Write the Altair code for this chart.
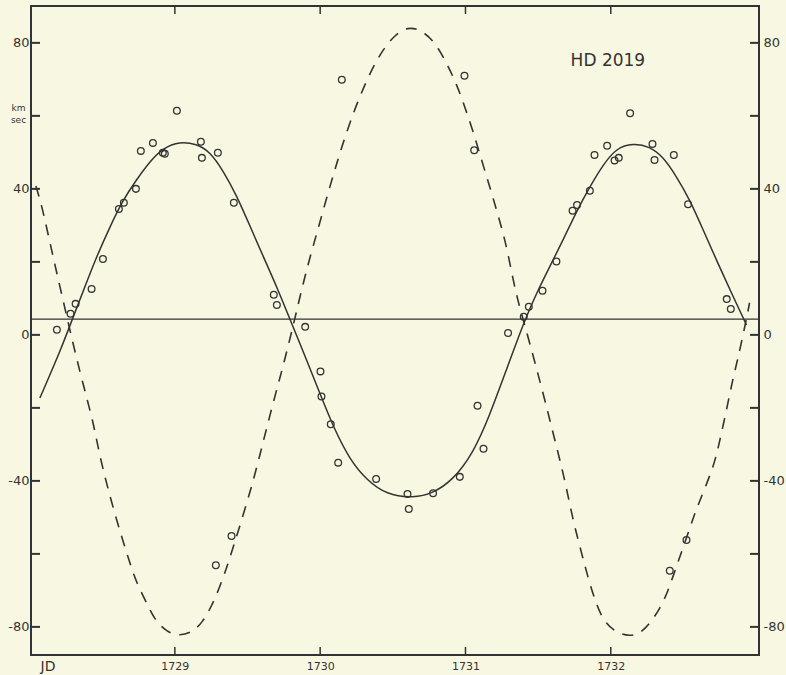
import altair as alt
import pandas as pd

# Primary star radial velocities (open circles)
p_x = [1728.188, 1728.282, 1728.317, 1728.427, 1728.505, 1728.615, 1728.649, 1728.732, 1728.766, 1728.849,
       1728.917, 1728.931, 1729.014, 1729.179, 1729.186, 1729.296, 1729.406, 1729.681, 1729.702, 1729.897,
       1730.002, 1730.009, 1730.073, 1730.124, 1730.385, 1730.601, 1730.610, 1730.777, 1730.961, 1731.083,
       1731.124, 1731.293, 1731.401, 1731.436, 1731.530, 1731.626, 1731.737, 1731.768, 1731.856, 1731.888,
       1731.975, 1732.026, 1732.055, 1732.133, 1732.287, 1732.301, 1732.434, 1732.532, 1732.798, 1732.826]
p_y = [1.4, 5.8, 8.5, 12.6, 20.8, 34.5, 36.2, 40.0, 50.4, 52.6,
       49.9, 49.6, 61.4, 52.9, 48.5, 49.9, 36.2, 11.0, 8.2, 2.2,
       -10.0, -16.9, -24.5, -35.0, -39.5, -43.6, -47.7, -43.4, -38.9, -19.4,
       -31.2, 0.5, 5.0, 7.7, 12.1, 20.1, 34.0, 35.6, 39.5, 49.3,
       51.8, 47.8, 48.5, 60.7, 52.3, 47.9, 49.3, 35.8, 9.8, 7.1]

# Secondary star points
s_x = [1729.282, 1729.390, 1730.149, 1730.993, 1731.060, 1732.406, 1732.521]
s_y = [-63.1, -55.1, 69.9, 71.0, 50.6, -64.6, -56.2]

# Solid curve (primary)
c1_x = [1728.071, 1728.220, 1728.300, 1728.381, 1728.461, 1728.553, 1728.644, 1728.736, 1728.828, 1728.919,
        1729.034, 1729.149, 1729.241, 1729.332, 1729.425, 1729.516, 1729.608, 1729.711, 1729.803, 1729.906,
        1729.998, 1730.089, 1730.204, 1730.319, 1730.457, 1730.640, 1730.777, 1730.915, 1731.053, 1731.167,
        1731.282, 1731.408, 1731.489, 1731.580, 1731.672, 1731.764, 1731.856, 1731.947, 1732.039, 1732.154,
        1732.268, 1732.360, 1732.452, 1732.544, 1732.635, 1732.727, 1732.842, 1732.934]
c1_y = [-17.3, -3.6, 4.9, 13.2, 21.4, 29.6, 37.0, 42.5, 47.5, 51.2,
        53.0, 52.3, 50.2, 45.0, 38.2, 29.9, 21.5, 12.3, 3.2, -6.8,
        -16.0, -25.1, -34.2, -39.7, -43.8, -44.7, -43.4, -39.7, -32.4, -22.0,
        -9.5, 4.1, 11.4, 18.7, 26.0, 33.8, 40.6, 46.6, 51.2, 52.5,
        51.6, 48.8, 43.4, 37.0, 28.8, 20.5, 10.5, 2.7]

# Dashed curve (secondary)
c2_x = [1728.044, 1728.083, 1728.121, 1728.167, 1728.222, 1728.298, 1728.346, 1728.392, 1728.436, 1728.461,
        1728.496, 1728.587, 1728.690, 1728.736, 1728.805, 1728.862, 1728.943, 1729.034, 1729.124, 1729.193,
        1729.253, 1729.310, 1729.356, 1729.390, 1729.528, 1729.597, 1729.676, 1729.757, 1729.826, 1729.872,
        1729.917, 1729.963, 1730.009, 1730.055, 1730.101, 1730.147, 1730.204, 1730.273, 1730.353, 1730.431,
        1730.514, 1730.603, 1730.693, 1730.789, 1730.870, 1730.938, 1730.995, 1731.053, 1731.110, 1731.167,
        1731.214, 1731.259, 1731.293, 1731.328, 1731.362, 1731.408, 1731.477, 1731.546, 1731.615, 1731.684,
        1731.739, 1731.798, 1731.842, 1731.890, 1731.945, 1732.028, 1732.131, 1732.211, 1732.289, 1732.372,
        1732.427, 1732.475, 1732.544, 1732.585, 1732.700, 1732.736, 1732.771, 1732.805, 1732.839, 1732.873,
        1732.908, 1732.942, 1732.955]
c2_y = [40.8, 35.5, 28.8, 20.5, 11.0, -2.2, -10.0, -17.0, -23.8, -28.6,
        -35.5, -49.3, -62.5, -67.9, -73.4, -78.1, -81.4, -82.5, -81.4, -78.6,
        -74.3, -69.0, -63.8, -59.7, -41.9, -31.0, -18.6, -6.8, 4.5, 12.3,
        19.4, 25.9, 32.4, 39.0, 45.2, 51.3, 58.1, 65.4, 72.6, 78.1,
        82.2, 84.4, 83.6, 80.3, 74.5, 68.8, 62.5, 55.7, 48.0, 40.6,
        34.2, 27.9, 22.2, 15.1, 9.1, 2.7, -7.4, -17.8, -28.8, -39.7,
        -50.7, -59.6, -66.3, -72.6, -78.1, -81.4, -82.7, -81.6, -78.1, -72.6,
        -66.3, -60.8, -53.0, -48.0, -37.0, -31.5, -25.2, -18.9, -12.3, -6.8,
        -0.4, 6.0, 8.8]

gamma = [4.3]
x_ticks = [1729, 1730, 1731, 1732]
y_ticks = [-80, -60, -40, -20, 0, 20, 40, 60, 80]
y_labels = [-80, -40, 0, 40, 80]
title_text = ["HD 2019"]
title_pos_x = [1731.98]
title_pos_y = [75.0]

X_DOMAIN = [1728.01, 1733.02]
Y_DOMAIN = [-87.7, 90.1]
W, H = 728, 649
INK = "#333333"
FONT = "DejaVu Sans"

xscale = alt.Scale(domain=X_DOMAIN, nice=False, zero=False)
yscale = alt.Scale(domain=Y_DOMAIN, nice=False, zero=False)

xenc = alt.X("x:Q", scale=xscale,
             axis=alt.Axis(values=x_ticks, format="d", ticks=False, domain=False, grid=False,
                           labelFontSize=11, labelPadding=5, labelColor=INK, labelFont=FONT,
                           title="JD", titleX=9, titleY=4, titleAlign="left", titleBaseline="top",
                           titleFontSize=14, titleFontWeight="normal", titleColor=INK, titleFont=FONT))
label_expr = "replace(datum.label, '\u2212', '-')"
yenc = alt.Y("y:Q", scale=yscale,
             axis=alt.Axis(values=y_labels, ticks=False, domain=False, grid=False,
                           labelFontSize=13, labelPadding=2, labelColor=INK, labelFont=FONT,
                           labelExpr=label_expr,
                           title=["km", "sec"], titleAngle=0, titleX=-13, titleY=97,
                           titleAlign="center", titleBaseline="top", titleFontSize=9,
                           titleLineHeight=12, titleFontWeight="normal", titleColor=INK, titleFont=FONT))

df_p = pd.DataFrame({"x": p_x, "y": p_y})
df_s = pd.DataFrame({"x": s_x, "y": s_y})
df_c1 = pd.DataFrame({"x": c1_x, "y": c1_y})
df_c2 = pd.DataFrame({"x": c2_x, "y": c2_y})
df_g = pd.DataFrame({"y": gamma})
df_xt = pd.DataFrame({"x": x_ticks})
df_yt = pd.DataFrame({"y": y_ticks})
df_t = pd.DataFrame({"x": title_pos_x, "y": title_pos_y, "t": title_text})

hline = alt.Chart(df_g).mark_rule(color=INK, strokeWidth=1.3).encode(
    y=yenc, x=alt.value(0), x2=alt.value(W))
solid = alt.Chart(df_c1).mark_line(color=INK, strokeWidth=1.5, interpolate="basis").encode(
    x=xenc, y=yenc, order="x:Q")
dashed = alt.Chart(df_c2).mark_line(color=INK, strokeWidth=1.6, strokeDash=[11, 9],
                                     interpolate="basis").encode(x=xenc, y=yenc, order="x:Q")
pts = alt.Chart(df_p).mark_point(shape="circle", filled=False, color=INK, size=45,
                                 strokeWidth=1.3, opacity=1).encode(x=xenc, y=yenc)
pts2 = alt.Chart(df_s).mark_point(shape="circle", filled=False, color=INK, size=45,
                                  strokeWidth=1.3, opacity=1).encode(x=xenc, y=yenc)
tick_l = alt.Chart(df_yt).mark_rule(color=INK, strokeWidth=2).encode(
    y=yenc, x=alt.value(0), x2=alt.value(9))
tick_r = alt.Chart(df_yt).mark_rule(color=INK, strokeWidth=2).encode(
    y=yenc, x=alt.value(W - 9), x2=alt.value(W))
tick_b = alt.Chart(df_xt).mark_rule(color=INK, strokeWidth=1.5).encode(
    x=xenc, y=alt.value(H - 8), y2=alt.value(H))
tick_t = alt.Chart(df_xt).mark_rule(color=INK, strokeWidth=1.5).encode(
    x=xenc, y=alt.value(0), y2=alt.value(8))
label = alt.Chart(df_t).mark_text(font=FONT, fontSize=17, color=INK, align="center",
                                  baseline="middle").encode(x=xenc, y=yenc, text="t:N")

main = alt.layer(hline, dashed, solid, pts, pts2, tick_l, tick_r, tick_b, tick_t, label)

df_right = pd.DataFrame({"y": y_labels})
right = alt.Chart(df_right).mark_point(opacity=0).encode(
    y=alt.Y("y:Q", scale=yscale,
            axis=alt.Axis(orient="right", values=y_labels, ticks=False, domain=False, grid=False,
                          labelFontSize=13, labelPadding=4, labelColor=INK, labelFont=FONT,
                          labelExpr=label_expr, title=None)))

chart = alt.layer(main, right).resolve_scale(y="independent").properties(
    width=W, height=H,
    autosize=alt.AutoSizeParams(type="none"),
    padding={"left": 31, "top": 6, "right": 27, "bottom": 20},
    background="#f8f8e2",
).configure_view(stroke=INK, strokeWidth=2)

chart.save("out.html", embed_options={"renderer": "svg", "actions": False})
